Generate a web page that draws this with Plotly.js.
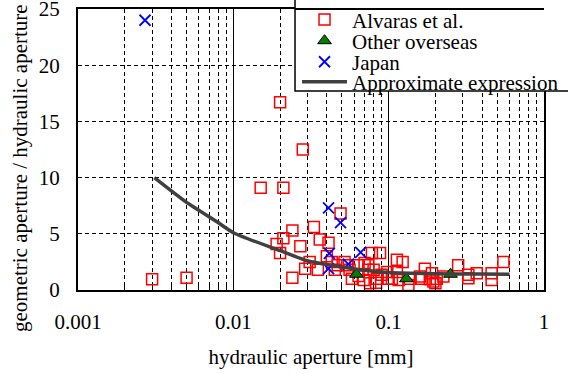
<!DOCTYPE html>
<html><head><meta charset="utf-8">
<script src="https://cdn.plot.ly/plotly-3.0.1.min.js"></script>
<style>html,body{margin:0;padding:0;background:#fff}#chart{width:568px;height:374px}</style>
</head><body><div id="chart"></div>
<script>
// Alvaras et al. (open red squares)
const alvarasX = [0.003, 0.005, 0.015, 0.021, 0.02, 0.028,
  0.049, 0.024, 0.033, 0.021, 0.019, 0.027, 0.036, 0.041, 0.02, 0.031, 0.029, 0.035, 0.024, 0.04,
  0.043, 0.047, 0.052, 0.045, 0.056, 0.064, 0.07, 0.074, 0.078, 0.088, 0.076, 0.084,
  0.113, 0.123, 0.098, 0.105, 0.113, 0.137, 0.134, 0.171, 0.163, 0.194,
  0.054, 0.074, 0.116, 0.159, 0.184, 0.204, 0.083, 0.064, 0.069, 0.09, 0.08, 0.1, 0.058,
  0.225, 0.28, 0.326, 0.326, 0.369, 0.46, 0.46, 0.548, 0.19, 0.2];
const alvarasY = [0.95, 1.1, 9.1, 9.1, 16.7, 12.5,
  6.8, 5.3, 5.6, 4.6, 4.1, 3.9, 4.5, 4.2, 3.3, 2.5, 1.9, 1.8, 1.1, 3.0,
  2.5, 2.2, 2.5, 1.8, 1.8, 2.2, 2.4, 1.8, 3.3, 3.3, 0.6, 1.0,
  2.7, 2.5, 1.6, 1.0, 1.6, 1.0, 0.45, 1.9, 1.0, 0.75,
  2.2, 2.2, 0.9, 1.2, 0.95, 1.0, 0.65, 1.25, 0.9, 1.35, 1.8, 1.0, 1.0,
  1.2, 2.2, 1.35, 1.05, 1.5, 1.5, 0.9, 2.5, 1.5, 0.6];
// Other overseas (green triangles)
const otherX = [0.062, 0.13, 0.25];
const otherY = [1.4, 1.0, 1.4];
// Japan (blue crosses)
const japanX = [0.0027, 0.041, 0.049, 0.0415, 0.041, 0.055, 0.066];
const japanY = [24.0, 7.3, 6.0, 3.25, 1.9, 2.3, 3.35];
// Approximate expression (curve)
const approxX = [0.0031, 0.005, 0.0078, 0.01, 0.02, 0.03, 0.05, 0.07, 0.1, 0.2, 0.4, 0.6];
const approxY = [10.0, 7.8, 6.1, 5.1, 3.5, 2.6, 2.05, 1.75, 1.55, 1.45, 1.42, 1.4];
// axis ticks
const xTickVals = [0.001, 0.01, 0.1, 1];
const xTickText = ['0.001', '0.01', '0.1', '1'];
const yTickVals = [0, 5, 10, 15, 20, 25];
const yTitle = 'geometric aperture / hydraulic aperture';
const xTitle = 'hydraulic aperture [mm]';

const FONT = '"Liberation Serif", "Times New Roman", Times, serif';

const traces = [
  {x: alvarasX, y: alvarasY, type: 'scatter', mode: 'markers', name: 'Alvaras et al.', legend: 'legend',
   marker: {symbol: 'square-open', size: 11, color: '#ff0000', line: {width: 1.5, color: '#ff0000'}}},
  {x: otherX, y: otherY, type: 'scatter', mode: 'markers', name: 'Other overseas', legend: 'legend2',
   marker: {symbol: 'triangle-up', size: 12, color: '#008000', line: {width: 1, color: '#000000'}}},
  {x: japanX, y: japanY, type: 'scatter', mode: 'markers', name: 'Japan', legend: 'legend3',
   marker: {symbol: 'x-thin-open', size: 11, color: '#0000ff', line: {width: 1.8, color: '#0000ff'}}},
  {x: approxX, y: approxY, type: 'scatter', mode: 'lines', name: 'Approximate expression', legend: 'legend4',
   line: {color: '#404040', width: 3.5, shape: 'spline', smoothing: 0.6}}
];

function leg(y) {
  return {x: 0.470, y: y, xref: 'paper', yref: 'paper', xanchor: 'left', yanchor: 'middle',
    bgcolor: 'rgba(0,0,0,0)', borderwidth: 0, itemwidth: 45,
    font: {family: FONT, size: 21, color: '#000'}};
}

const layout = {
  width: 568, height: 374,
  margin: {l: 78, r: 24, t: 9, b: 84, autoexpand: false},
  paper_bgcolor: '#ffffff', plot_bgcolor: '#ffffff',
  font: {family: FONT, size: 21, color: '#000'},
  showlegend: true,
  legend: leg(0.961), legend2: leg(0.886), legend3: leg(0.811), legend4: leg(0.740),
  xaxis: {
    type: 'log', range: [-3, 0], tickmode: 'array', tickvals: xTickVals, ticktext: xTickText,
    showline: true, linecolor: '#000', linewidth: 2, mirror: true,
    ticks: 'inside', ticklen: 5, tickcolor: '#000', ticklabelstandoff: 12, ticklabeloverflow: 'allow',
    tickfont: {family: FONT, size: 21, color: '#000'},
    showgrid: true, gridcolor: '#000', gridwidth: 1.5,
    minor: {dtick: 'D1', ticks: 'inside', ticklen: 5, tickcolor: '#000', showgrid: true,
            gridcolor: '#000', gridwidth: 1, griddash: '4px,3px'},
    zeroline: false,
    title: {text: xTitle, font: {family: FONT, size: 21, color: '#000'}, standoff: 16}
  },
  yaxis: {
    range: [0, 25], tickmode: 'array', tickvals: yTickVals,
    showline: true, linecolor: '#000', linewidth: 2, mirror: true,
    ticks: 'outside', ticklen: 12, tickcolor: 'rgba(0,0,0,0)', ticklabeloverflow: 'allow',
    tickfont: {family: FONT, size: 21, color: '#000'},
    showgrid: true, gridcolor: '#000', gridwidth: 1, griddash: '4px,3px',
    zeroline: false
  },
  annotations: [
    {text: yTitle, xref: 'paper', yref: 'paper', x: -0.1245, y: 0.434, xanchor: 'center', yanchor: 'middle',
     textangle: -90, showarrow: false, font: {family: FONT, size: 21, color: '#000'}}
  ],
  shapes: [
    {type: 'rect', xref: 'paper', yref: 'paper', x0: 0.4657, x1: 1.08, y0: 0.708, y1: 1.06,
     fillcolor: '#ffffff', line: {color: '#000', width: 1.5}, layer: 'above'},
    {type: 'line', xref: 'paper', yref: 'paper', x0: 0.4657, x1: 1, y0: 1, y1: 1,
     line: {color: '#000', width: 2}, layer: 'above'}
  ]
};

Plotly.newPlot('chart', traces, layout, {staticPlot: true, displayModeBar: false});
</script></body></html>
